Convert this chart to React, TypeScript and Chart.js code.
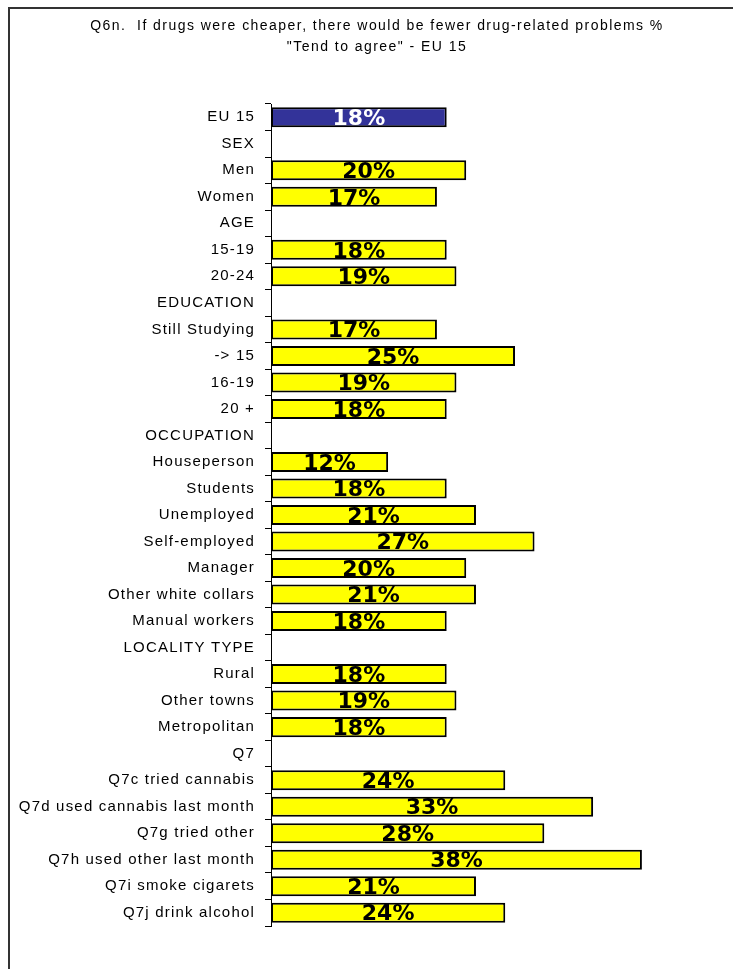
import React, { useEffect, useRef } from "react";
import { Chart, registerables } from "chart.js";

Chart.register(...registerables);

const titleLines = [
  "Q6n.  If drugs were cheaper, there would be fewer drug-related problems %",
  '"Tend to agree" - EU 15',
];

const categories = [
  "EU 15",
  "SEX",
  "Men",
  "Women",
  "AGE",
  "15-19",
  "20-24",
  "EDUCATION",
  "Still Studying",
  "-> 15",
  "16-19",
  "20 +",
  "OCCUPATION",
  "Houseperson",
  "Students",
  "Unemployed",
  "Self-employed",
  "Manager",
  "Other white collars",
  "Manual workers",
  "LOCALITY TYPE",
  "Rural",
  "Other towns",
  "Metropolitan",
  "Q7",
  "Q7c tried cannabis",
  "Q7d used cannabis last month",
  "Q7g tried other",
  "Q7h used other last month",
  "Q7i smoke cigarets",
  "Q7j drink alcohol",
];

const values: (number | null)[] = [
  18, null, 20, 17, null, 18, 19, null, 17, 25, 19, 18, null, 12, 18, 21, 27,
  20, 21, 18, null, 18, 19, 18, null, 24, 33, 28, 38, 21, 24,
];

const totalColor = "#333399";
const barColor = "#FFFF00";

const textSpacingPlugin = {
  id: "textSpacing",
  beforeUpdate(chart: any) {
    chart.ctx.letterSpacing = "1.2px";
  },
  beforeDraw(chart: any) {
    chart.ctx.letterSpacing = "1.2px";
  },
};

const titlePlugin = {
  id: "customTitle",
  afterDraw(chart: any) {
    const ctx = chart.ctx;
    ctx.save();
    ctx.letterSpacing = "1.45px";
    ctx.font = "14px 'Liberation Sans', Arial, sans-serif";
    ctx.fillStyle = "#000";
    ctx.textAlign = "center";
    ctx.textBaseline = "alphabetic";
    ctx.fillText(titleLines[0], 377, 29.5);
    ctx.fillText(titleLines[1], 377, 51);
    ctx.restore();
  },
};

const valueLabelPlugin = {
  id: "valueLabels",
  afterDatasetsDraw(chart: any) {
    const ctx = chart.ctx;
    const meta = chart.getDatasetMeta(0);
    ctx.save();
    ctx.letterSpacing = "0px";
    ctx.font = "bold 22px 'DejaVu Sans', Verdana, sans-serif";
    ctx.textAlign = "center";
    ctx.textBaseline = "middle";
    meta.data.forEach((bar: any, i: number) => {
      const v = values[i];
      if (v === null || v === undefined) return;
      const cx = (bar.x + bar.base) / 2;
      ctx.fillStyle = i === 0 ? "#FFFFFF" : "#000000";
      ctx.fillText(v + "%", cx, bar.y + 2);
    });
    ctx.restore();
  },
};

export default function App() {
  const canvasRef = useRef<HTMLCanvasElement | null>(null);

  useEffect(() => {
    if (!canvasRef.current) return;
    const chart = new Chart(canvasRef.current, {
      type: "bar",
      data: {
        labels: categories,
        datasets: [
          {
            data: values,
            backgroundColor: values.map((_, i) => (i === 0 ? totalColor : barColor)),
            borderColor: "#000000",
            borderWidth: 2,
            borderSkipped: false,
            barPercentage: 0.755,
            categoryPercentage: 1,
          },
        ],
      },
      options: {
        indexAxis: "y",
        responsive: false,
        animation: false,
        layout: {
          padding: { top: 104, bottom: 43, left: 0, right: 13 },
        },
        plugins: {
          legend: { display: false },
          title: { display: false },
          tooltip: { enabled: false },
        },
        scales: {
          x: {
            display: false,
            min: 0,
            max: 46,
          },
          y: {
            afterFit(scale: any) {
              scale.width = 271;
            },
            border: { display: true, color: "#000000", width: 1 },
            grid: {
              display: true,
              drawOnChartArea: false,
              drawTicks: true,
              tickLength: 6,
              color: "#000000",
              offset: true,
            },
            ticks: {
              color: "#000000",
              padding: 10,
              autoSkip: false,
              font: { family: "'Liberation Sans', Arial, sans-serif", size: 15 },
            },
          },
        },
      },
      plugins: [textSpacingPlugin, titlePlugin, valueLabelPlugin],
    });
    return () => chart.destroy();
  }, []);

  return (
    <div style={{ position: "absolute", left: 0, top: 0, width: 733, height: 969, background: "#fff" }}>
      <div
        style={{
          position: "absolute",
          left: 8,
          top: 7,
          width: 725,
          height: 962,
          borderTop: "2px solid #333333",
          borderLeft: "2px solid #333333",
          boxSizing: "border-box",
        }}
      />
      <canvas
        ref={canvasRef}
        width={733}
        height={969}
        style={{ position: "absolute", left: 0, top: 0, width: 733, height: 969 }}
      />
    </div>
  );
}
